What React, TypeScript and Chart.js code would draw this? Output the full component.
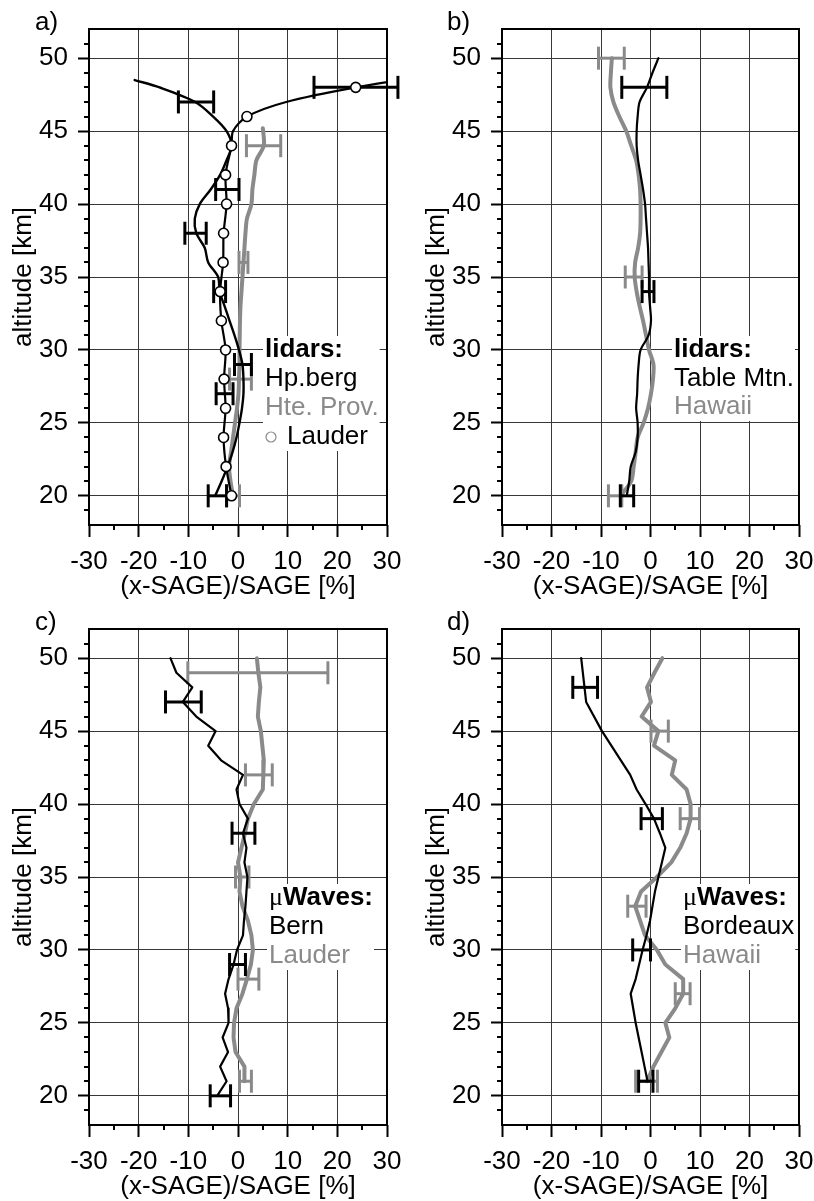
import React, { useEffect, useRef } from "react";
import { Chart, registerables } from "chart.js";

Chart.register(...registerables);

// ---------- axes ----------
const ALT_MIN = 18;
const ALT_MAX = 52;
const X_MIN = -30;
const X_MAX = 30;
const Y_TICKS = [20, 25, 30, 35, 40, 45, 50];
const Y_MINOR = [19, 21, 22, 23, 24, 26, 27, 28, 29, 31, 32, 33, 34, 36, 37, 38, 39, 41, 42, 43, 44, 46, 47, 48, 49, 51];
const X_TICKS = [-30, -20, -10, 0, 10, 20, 30];
const X_MINOR = [-25, -15, -5, 5, 15, 25];

// ---------- panel a: lidars ----------
const A_HPB_ALT = [48.5, 48, 47, 46, 45, 44, 43, 42, 41, 40, 39, 38, 37, 36, 35, 34, 33, 32, 31, 30, 29, 28, 27, 26, 25, 24, 23, 22, 21, 20];
const A_HPB_VAL = [-20.8, -15.8, -8.6, -5.0, -2.3, -1.3, -2.3, -3.6, -5.5, -7.7, -8.7, -8.4, -6.7, -6.0, -4.0, -3.7, -2.7, -1.7, -0.7, 0.2, 0.9, 1.1, 1.1, 0.8, 0.3, -0.3, -1.1, -2.1, -3.3, -4.6];
const A_HTE_ALT = [45.2, 44, 43, 42, 41, 40, 39, 38, 37, 36, 35, 34, 33, 32, 31, 30, 29, 28, 27, 26, 25, 24, 23, 22, 21, 20];
const A_HTE_VAL = [5.0, 5.2, 3.7, 3.3, 2.9, 2.7, 1.8, 1.5, 1.3, 1.1, 0.9, 0.7, 0.5, 0.4, 0.35, 0.3, 0.3, 0.2, 0.1, -0.2, -0.6, -1.0, -1.4, -1.8, -1.5, -1.0];
const A_LAU_LINE_ALT = [20, 22, 24, 26, 28, 30, 32, 34, 36, 38, 40, 42, 44, 45, 46, 47, 48, 48.9];
const A_LAU_LINE_VAL = [-1.3, -2.4, -2.9, -2.5, -2.8, -2.5, -3.35, -3.6, -3.0, -2.9, -2.3, -2.5, -1.3, -1.0, 1.8, 9.7, 23.7, 40];
const A_LAU_ALT = [20, 22, 24, 26, 28, 30, 32, 34, 36, 38, 40, 42, 44, 46, 48];
const A_LAU_VAL = [-1.3, -2.4, -2.9, -2.5, -2.8, -2.5, -3.35, -3.6, -3.0, -2.9, -2.3, -2.5, -1.3, 1.8, 23.7];
const A_ERRK_ALT = [48, 47, 41, 38, 34, 29, 27, 20];
const A_ERRK_LO = [15.3, -12.0, -4.5, -10.7, -4.9, -0.7, -4.4, -6.0];
const A_ERRK_HI = [32.2, -4.9, 0.2, -6.4, -2.5, 2.7, -1.0, -2.3];
const A_ERRG_ALT = [44, 36, 28, 20];
const A_ERRG_LO = [1.7, 0.2, -1.7, -2.3];
const A_ERRG_HI = [8.6, 2.0, 2.7, 0.3];

// ---------- panel b: lidars ----------
const B_ALT = [50, 49, 48, 47, 46, 45, 44, 43, 42, 41, 40, 39, 38, 37, 36, 35, 34, 33, 32, 31, 30, 29, 28, 27, 26, 25, 24, 23, 22, 21, 20];
const B_TM_VAL = [1.6, 0.4, -0.7, -2.2, -2.6, -2.8, -2.8, -2.5, -2.0, -1.5, -1.1, -0.9, -0.7, -0.5, -0.4, -0.3, -0.3, -0.1, 0.1, -0.4, -2.0, -2.4, -2.6, -2.7, -2.9, -2.6, -2.6, -3.0, -4.0, -4.3, -4.8];
const B_HAW_VAL = [-7.8, -8.0, -8.1, -7.5, -6.3, -4.9, -3.9, -2.9, -2.4, -2.1, -2.0, -2.0, -2.1, -2.5, -3.1, -3.2, -2.8, -2.2, -1.5, -0.9, -0.3, 0.6, 0.5, 0.1, -0.5, -1.4, -2.6, -3.0, -3.4, -3.9, -6.1];
const B_ERRK_ALT = [48, 34, 20];
const B_ERRK_LO = [-5.8, -1.7, -6.1];
const B_ERRK_HI = [3.3, 0.7, -3.4];
const B_ERRG_ALT = [50, 35, 20];
const B_ERRG_LO = [-10.5, -5.1, -8.5];
const B_ERRG_HI = [-5.3, -1.7, -5.8];

// ---------- panel c: microwaves ----------
const C_BERN_ALT = [50, 49, 48, 47, 46, 45, 44, 43, 42, 41, 40, 39, 38, 37, 36, 35, 34, 33, 32, 31, 30, 29, 28, 27, 26, 25, 24, 23, 22, 21, 20];
const C_BERN_VAL = [-13.6, -12.4, -9.2, -11.1, -8.4, -4.5, -6.0, -3.4, 1.0, -0.3, 0.3, 2.0, 1.0, 1.7, 1.3, 1.9, 1.7, 1.5, 1.2, 1.0, -0.2, -0.9, -1.9, -2.6, -2.0, -1.9, -3.1, -2.0, -3.6, -2.3, -4.2];
const C_LAU_ALT = [50, 49, 48, 47, 46, 45, 44, 43, 42, 41, 40, 39, 38, 37, 36, 35, 34, 33, 32, 31, 30, 29, 28, 27, 26, 25, 24, 23, 22, 21];
const C_LAU_VAL = [3.8, 4.1, 4.5, 4.2, 4.0, 4.6, 4.9, 5.2, 5.1, 5.0, 3.2, 2.0, 1.4, 0.7, 0.0, 0.5, 0.3, 0.9, 2.0, 2.7, 3.0, 2.6, 1.8, 0.9, -0.3, -0.8, -0.9, -0.5, 1.3, 1.3];
const C_ERRK_ALT = [47, 38, 29, 20];
const C_ERRK_LO = [-14.6, -1.2, -1.7, -5.6];
const C_ERRK_HI = [-7.4, 3.4, 1.5, -1.5];
const C_ERRG_ALT = [49, 42, 35, 28, 21];
const C_ERRG_LO = [-10.1, 1.5, -0.5, 0.0, 0.3];
const C_ERRG_HI = [18.1, 6.9, 2.2, 4.2, 2.7];

// ---------- panel d: microwaves ----------
const D_BOR_ALT = [50, 47, 45, 42, 41, 40, 39, 38, 37, 36, 35, 34, 33, 32, 31, 30, 29, 28, 27, 26, 25, 24, 23, 22, 21];
const D_BOR_VAL = [-14.0, -13.0, -9.8, -4.1, -2.8, -1.0, 0.7, 1.9, 3.0, 2.3, 1.6, 0.9, 0.4, -0.1, -0.8, -1.6, -2.3, -3.0, -4.0, -3.5, -3.0, -2.4, -1.8, -1.2, -0.6];
const D_HAW_ALT = [50, 49, 48, 47, 46, 45, 44, 43, 42, 41, 40, 39, 38, 37, 36, 35, 34, 33, 32, 31, 30, 29, 28, 27, 26, 25, 24, 23, 22, 21];
const D_HAW_VAL = [2.4, 0.8, -0.7, 0.1, -1.8, 1.6, 0.7, 5.0, 4.3, 7.3, 8.1, 8.1, 7.3, 6.0, 4.2, 1.3, -1.9, -3.1, -2.1, -1.1, 1.3, 3.0, 6.6, 6.6, 5.0, 3.0, 3.8, 2.2, 0.6, -0.7];
const D_ERRK_ALT = [48, 39, 30, 21];
const D_ERRK_LO = [-15.7, -1.9, -3.6, -2.4];
const D_ERRK_HI = [-10.7, 2.4, 0.0, 0.5];
const D_ERRG_ALT = [45, 39, 33, 27, 21];
const D_ERRG_LO = [0.1, 6.0, -4.6, 5.0, -3.0];
const D_ERRG_HI = [3.6, 9.9, -0.9, 8.0, 1.4];

// ---------- text ----------
const X_TITLE = "(x-SAGE)/SAGE [%]";
const Y_TITLE = "altitude [km]";

// ---------- styles ----------
const BLACK = "#000000";
const GRAY = "#8a8a8a";
const GRID = "#383838";
const FONT = "'Liberation Sans', Arial, Helvetica, sans-serif";
const SERIF = "'Liberation Serif', 'DejaVu Serif', serif";
const FS = 26;

type Line = { alt: number[]; val: number[]; color: string; width: number; tension: number };
type Err = { alt: number[]; lo: number[]; hi: number[]; color: string };
type LegendItem = { text: string; color: string; bold?: boolean; mu?: boolean; circle?: boolean };

const PANELS: any[] = [
  {
    key: "a", left: 0, top: 0, w: 407, h: 600, padRight: 20, label: "a)", labelX: 35, labelY: 30,
    lines: [
      { alt: A_HTE_ALT, val: A_HTE_VAL, color: GRAY, width: 4, tension: 0.3 },
      { alt: A_HPB_ALT, val: A_HPB_VAL, color: BLACK, width: 2.4, tension: 0.3 },
      { alt: A_LAU_LINE_ALT, val: A_LAU_LINE_VAL, color: BLACK, width: 2.2, tension: 0.3 },
    ],
    markers: [{ alt: A_LAU_ALT, val: A_LAU_VAL }],
    errs: [
      { alt: A_ERRG_ALT, lo: A_ERRG_LO, hi: A_ERRG_HI, color: GRAY },
      { alt: A_ERRK_ALT, lo: A_ERRK_LO, hi: A_ERRK_HI, color: BLACK },
    ],
    legend: {
      x: 265, y: 357, gap: 29,
      items: [
        { text: "lidars:", color: BLACK, bold: true },
        { text: "Hp.berg", color: BLACK },
        { text: "Hte. Prov.", color: GRAY },
        { text: "Lauder", color: BLACK, circle: true },
      ],
    },
  },
  {
    key: "b", left: 413, top: 0, w: 401, h: 600, padRight: 15, label: "b)", labelX: 34, labelY: 30,
    lines: [
      { alt: B_ALT, val: B_HAW_VAL, color: GRAY, width: 4, tension: 0.3 },
      { alt: B_ALT, val: B_TM_VAL, color: BLACK, width: 2.2, tension: 0.3 },
    ],
    markers: [],
    errs: [
      { alt: B_ERRG_ALT, lo: B_ERRG_LO, hi: B_ERRG_HI, color: GRAY },
      { alt: B_ERRK_ALT, lo: B_ERRK_LO, hi: B_ERRK_HI, color: BLACK },
    ],
    legend: {
      x: 261, y: 357, gap: 28.5,
      items: [
        { text: "lidars:", color: BLACK, bold: true },
        { text: "Table Mtn.", color: BLACK },
        { text: "Hawaii", color: GRAY },
      ],
    },
  },
  {
    key: "c", left: 0, top: 600, w: 407, h: 600, padRight: 20, label: "c)", labelX: 35, labelY: 30,
    lines: [
      { alt: C_LAU_ALT, val: C_LAU_VAL, color: GRAY, width: 4, tension: 0 },
      { alt: C_BERN_ALT, val: C_BERN_VAL, color: BLACK, width: 2.2, tension: 0 },
    ],
    markers: [],
    errs: [
      { alt: C_ERRG_ALT, lo: C_ERRG_LO, hi: C_ERRG_HI, color: GRAY },
      { alt: C_ERRK_ALT, lo: C_ERRK_LO, hi: C_ERRK_HI, color: BLACK },
    ],
    legend: {
      x: 269, y: 305, gap: 29,
      items: [
        { text: "Waves:", color: BLACK, bold: true, mu: true },
        { text: "Bern", color: BLACK },
        { text: "Lauder", color: GRAY },
      ],
    },
  },
  {
    key: "d", left: 413, top: 600, w: 401, h: 600, padRight: 15, label: "d)", labelX: 34, labelY: 30,
    lines: [
      { alt: D_HAW_ALT, val: D_HAW_VAL, color: GRAY, width: 4, tension: 0 },
      { alt: D_BOR_ALT, val: D_BOR_VAL, color: BLACK, width: 2.2, tension: 0 },
    ],
    markers: [],
    errs: [
      { alt: D_ERRG_ALT, lo: D_ERRG_LO, hi: D_ERRG_HI, color: GRAY },
      { alt: D_ERRK_ALT, lo: D_ERRK_LO, hi: D_ERRK_HI, color: BLACK },
    ],
    legend: {
      x: 270, y: 305, gap: 29,
      items: [
        { text: "Waves:", color: BLACK, bold: true, mu: true },
        { text: "Bordeaux", color: BLACK },
        { text: "Hawaii", color: GRAY },
      ],
    },
  },
];

function pts(alt: number[], val: number[]) {
  return alt.map((a, i) => ({ x: val[i], y: a }));
}

function zeroPad(s: any) {
  s.paddingLeft = 0;
  s.paddingRight = 0;
  s.paddingTop = 0;
  s.paddingBottom = 0;
}

function makeConfig(spec: any): any {
  const datasets: any[] = [];
  spec.lines.forEach((l: Line) => {
    datasets.push({
      data: pts(l.alt, l.val),
      showLine: true,
      borderColor: l.color,
      borderWidth: l.width,
      tension: l.tension,
      pointRadius: 0,
      borderJoinStyle: "round",
      borderCapStyle: "round",
      order: l.color === GRAY ? 4 : 2,
    });
  });
  spec.errs.forEach((e: Err) => {
    e.alt.forEach((a, i) => {
      datasets.push({
        data: [
          { x: e.lo[i], y: a },
          { x: e.hi[i], y: a },
        ],
        showLine: true,
        borderColor: e.color,
        borderWidth: 3,
        tension: 0,
        pointStyle: "line",
        pointRotation: 90,
        pointRadius: 11.5,
        pointBorderWidth: 3,
        pointBorderColor: e.color,
        pointBackgroundColor: e.color,
        clip: false,
        order: e.color === GRAY ? 3 : 1,
      });
    });
  });
  spec.markers.forEach((m: any) => {
    datasets.push({
      data: pts(m.alt, m.val),
      showLine: false,
      pointStyle: "circle",
      pointRadius: 5,
      pointBorderWidth: 1.6,
      pointBorderColor: BLACK,
      pointBackgroundColor: "#ffffff",
      order: 0,
    });
  });

  const decor = {
    id: "decor_" + spec.key,
    afterDraw(chart: any) {
      const { ctx, chartArea: ca, scales } = chart;
      const sx = scales.x;
      const sy = scales.y;
      ctx.save();
      // minor tick marks
      ctx.strokeStyle = BLACK;
      ctx.lineWidth = 2;
      ctx.beginPath();
      Y_MINOR.forEach((v) => {
        const p = Math.round(sy.getPixelForValue(v));
        ctx.moveTo(ca.left, p);
        ctx.lineTo(ca.left - 5, p);
      });
      X_MINOR.forEach((v) => {
        const p = Math.round(sx.getPixelForValue(v));
        ctx.moveTo(p, ca.bottom);
        ctx.lineTo(p, ca.bottom + 5);
      });
      ctx.stroke();
      // frame
      ctx.lineWidth = 2;
      ctx.strokeRect(Math.round(ca.left), Math.round(ca.top), Math.round(ca.right) - Math.round(ca.left), Math.round(ca.bottom) - Math.round(ca.top));

      // legend
      const lg = spec.legend;
      const normal = `${FS}px ${FONT}`;
      const bold = `bold ${FS}px ${FONT}`;
      const muFont = `${FS}px ${SERIF}`;
      let maxW = 0;
      const offsets: number[] = [];
      lg.items.forEach((it: LegendItem) => {
        let w = 0;
        let off = 0;
        if (it.mu) {
          ctx.font = muFont;
          off = ctx.measureText("\u03bc").width;
          w += off;
        }
        if (it.circle) {
          off = 22;
          w += off;
        }
        ctx.font = it.bold ? bold : normal;
        w += ctx.measureText(it.text).width;
        offsets.push(off);
        maxW = Math.max(maxW, w);
      });
      const boxTop = lg.y - 21;
      const boxBottom = lg.y + lg.gap * (lg.items.length - 1) + 7;
      ctx.fillStyle = "#ffffff";
      ctx.fillRect(lg.x - 2, boxTop, maxW + 3, boxBottom - boxTop);
      ctx.textBaseline = "alphabetic";
      ctx.textAlign = "left";
      lg.items.forEach((it: LegendItem, i: number) => {
        const by = lg.y + lg.gap * i;
        if (it.mu) {
          ctx.font = muFont;
          ctx.fillStyle = it.color;
          ctx.fillText("\u03bc", lg.x, by);
        }
        if (it.circle) {
          ctx.beginPath();
          ctx.strokeStyle = GRAY;
          ctx.lineWidth = 1.2;
          ctx.arc(lg.x + 6, by - 7, 5, 0, Math.PI * 2);
          ctx.stroke();
        }
        ctx.font = it.bold ? bold : normal;
        ctx.fillStyle = it.color;
        ctx.fillText(it.text, lg.x + offsets[i], by);
      });

      // panel label
      ctx.font = normal;
      ctx.fillStyle = BLACK;
      ctx.fillText(spec.label, spec.labelX, spec.labelY);
      ctx.restore();
    },
  };

  return {
    type: "scatter",
    data: { datasets },
    options: {
      responsive: false,
      animation: false,
      events: [],
      devicePixelRatio: 1,
      layout: { padding: { left: 0, top: 29, right: spec.padRight, bottom: 0 } },
      plugins: { legend: { display: false }, tooltip: { enabled: false } },
      scales: {
        x: {
          type: "linear",
          position: "bottom",
          min: X_MIN,
          max: X_MAX,
          afterBuildTicks: (s: any) => {
            s.ticks = X_TICKS.map((v) => ({ value: v }));
          },
          afterFit: (s: any) => {
            s.height = 75;
            zeroPad(s);
          },
          border: { display: false },
          grid: { color: GRID, lineWidth: 1, drawTicks: true, tickLength: 12, tickColor: BLACK, tickWidth: 2 },
          ticks: {
            color: BLACK,
            font: { family: FONT, size: FS, lineHeight: 1 },
            padding: 12,
            maxRotation: 0,
            minRotation: 0,
            autoSkip: false,
            callback: (v: any) => String(v),
          },
          title: {
            display: true,
            text: X_TITLE,
            color: BLACK,
            font: { family: FONT, size: FS, lineHeight: 1 },
            padding: { top: 0, bottom: 0 },
          },
        },
        y: {
          type: "linear",
          position: "left",
          min: ALT_MIN,
          max: ALT_MAX,
          afterBuildTicks: (s: any) => {
            s.ticks = Y_TICKS.map((v) => ({ value: v }));
          },
          afterFit: (s: any) => {
            s.width = 89;
            zeroPad(s);
          },
          border: { display: false },
          grid: { color: GRID, lineWidth: 1, drawTicks: true, tickLength: 11, tickColor: BLACK, tickWidth: 2 },
          ticks: {
            color: BLACK,
            font: { family: FONT, size: FS, lineHeight: 1 },
            padding: 10,
            autoSkip: false,
            callback: (v: any) => String(v),
          },
          title: {
            display: true,
            text: Y_TITLE,
            color: BLACK,
            font: { family: FONT, size: FS, lineHeight: 1 },
            padding: { top: 11, bottom: 0 },
          },
        },
      },
    },
    plugins: [decor],
  };
}

function Panel({ spec }: { spec: any }) {
  const ref = useRef<HTMLCanvasElement>(null);
  useEffect(() => {
    const chart = new Chart(ref.current as HTMLCanvasElement, makeConfig(spec));
    return () => chart.destroy();
  }, [spec]);
  return (
    <canvas
      ref={ref}
      width={spec.w}
      height={spec.h}
      style={{ position: "absolute", left: spec.left, top: spec.top, width: spec.w, height: spec.h }}
    />
  );
}

export default function App() {
  return (
    <div
      style={{
        position: "absolute",
        left: 0,
        top: 0,
        width: 814,
        height: 1201,
        overflow: "hidden",
        background: "#ffffff",
      }}
    >
      {PANELS.map((p) => (
        <Panel key={p.key} spec={p} />
      ))}
    </div>
  );
}
